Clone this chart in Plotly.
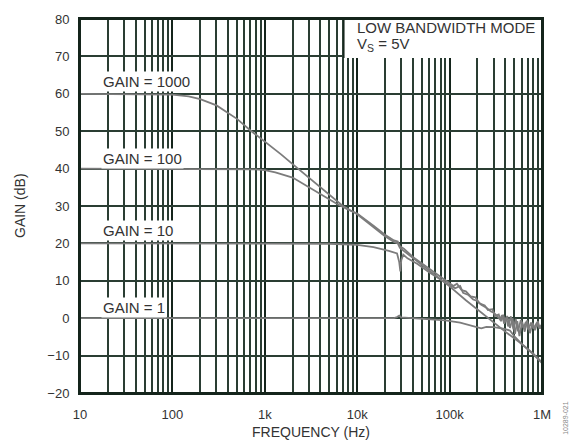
import plotly.graph_objects as go

# Closed-loop gain vs frequency, low bandwidth mode, Vs = 5 V
freq_g1000 = [10, 30, 60, 100, 150, 200, 300, 400, 500, 700, 1000, 1500, 2000, 3000,
              5000, 7000, 10000, 15000, 20000, 25000, 27500, 29000, 32000, 40000,
              60000, 100000, 150000, 200000, 280000, 400000, 580000, 800000, 1000000]
gain_g1000 = [60.0, 60.0, 60.0, 59.8, 59.3, 58.6, 56.9, 55.0, 53.3, 50.2, 47.3, 43.8,
              41.2, 37.5, 33.0, 30.0, 27.8, 24.3, 21.9, 20.4, 20.0, 18.8, 18.0, 16.0,
              12.7, 8.5, 4.8, 2.3, -0.6, -3.6, -6.6, -9.6, -12.0]

freq_g100 = [10, 100, 500, 800, 1000, 1300, 2000, 3000, 4000, 6000, 8000, 10000,
             15000, 20000, 25000, 27500, 29000, 32000, 40000, 60000, 80000,
             100000, 110000, 120000, 135000, 150000, 170000, 190000, 210000, 240000,
             260000, 290000, 310000, 340000, 360000, 380000, 400000, 420000, 450000,
             480000, 510000, 540000, 570000, 610000, 650000, 690000, 740000, 790000,
             840000, 900000, 950000, 1000000]
gain_g100 = [40.0, 40.0, 39.9, 39.8, 39.6, 39.0, 37.6, 35.0, 33.2, 30.6, 29.0, 28.0,
             24.7, 22.3, 20.8, 20.5, 19.2, 18.6, 16.4, 13.2, 11.0,
             9.4, 8.6, 9.2, 7.5, 7.2, 5.8, 5.6, 4.0, 3.4,
             2.2, 2.4, 0.6, 1.0, -0.8, 0.9, -1.0, 0.6, -2.6,
             0.0, -4.2, -0.8, -4.8, -1.0, -3.6, -0.6, -4.0, -1.2,
             -3.2, -0.8, -2.8, -1.5]

freq_g10 = [10, 1000, 5000, 10000, 15000, 22000, 27000, 28500, 29300, 30000, 31500,
            35000, 45000, 60000, 80000, 100000, 115000, 130000, 140000, 160000,
            180000, 200000, 220000, 250000, 280000, 300000, 330000, 350000, 370000,
            390000, 410000, 430000, 460000, 490000, 520000, 550000, 590000, 630000,
            670000, 710000, 760000, 810000, 870000, 930000, 1000000]
gain_g10 = [20.0, 20.0, 19.9, 19.6, 19.0, 18.0, 17.3, 15.0, 12.5, 15.5, 17.0,
            16.0, 14.5, 12.3, 10.2, 8.8, 8.0, 8.6, 6.8, 6.2,
            5.0, 4.6, 3.6, 2.8, 1.8, 1.5, 0.4, -0.3, 0.8,
            -1.5, 0.2, -2.2, 0.5, -3.0, -0.2, -3.5, -0.5, -2.6,
            -1.0, -3.0, -1.2, -2.8, -1.4, -2.5, -1.8]

freq_g1 = [10, 1000, 10000, 25000, 27000, 28500, 30000, 40000, 60000, 90000, 130000,
           170000, 220000, 250000, 300000, 380000, 450000, 500000, 600000, 800000, 1000000]
gain_g1 = [0.0, 0.0, 0.0, 0.0, 0.3, 0.7, 0.2, 0.0, -0.3, -0.6, -1.2,
           -2.0, -2.7, -2.3, -2.4, -2.8, -3.3, -4.8, -6.8, -9.4, -11.8]

x_tick_vals = [10, 100, 1000, 10000, 100000, 1000000]
x_tick_text = ["10", "100", "1k", "10k", "100k", "1M"]
y_tick_vals = [-20, -10, 0, 10, 20, 30, 40, 50, 60, 70, 80]

curve_labels = ["GAIN = 1000", "GAIN = 100", "GAIN = 10", "GAIN = 1"]
label_levels = [63.2, 42.8, 23.4, 2.9]

GRID = "#14241b"
GRID_MINOR = "#2a3d33"
CURVE = "#7c7c7c"
FONT = "Liberation Sans, Arial, sans-serif"

minor_vals = [m * d for d in (10, 100, 1000, 10000, 100000) for m in range(2, 10)]

fig = go.Figure()
for fx, gy in [(freq_g1000, gain_g1000), (freq_g100, gain_g100),
               (freq_g10, gain_g10), (freq_g1, gain_g1)]:
    fig.add_trace(go.Scatter(x=fx, y=gy, mode="lines",
                             line=dict(color=CURVE, width=1.8),
                             showlegend=False, hoverinfo="skip"))

fig.update_layout(
    width=576, height=444,
    margin=dict(l=80, r=34, t=17, b=51),
    paper_bgcolor="white", plot_bgcolor="white",
    font=dict(family=FONT, size=13, color="#333333"),
    xaxis=dict(type="log", range=[1, 6], tickvals=x_tick_vals, ticktext=x_tick_text,
               showgrid=True, gridcolor=GRID, gridwidth=2,
               minor=dict(tickvals=minor_vals, showgrid=True, gridcolor=GRID_MINOR,
                          gridwidth=1.5),
               showline=True, linecolor=GRID, linewidth=2, mirror=True,
               ticks="", zeroline=False, ticklabelstandoff=8,
               tickfont=dict(size=13, color="#333333")),
    yaxis=dict(range=[-20, 80], tickvals=y_tick_vals,
               showgrid=True, gridcolor=GRID_MINOR, gridwidth=2,
               showline=True, linecolor=GRID, linewidth=2, mirror=True,
               ticks="", zeroline=False, ticklabelstandoff=6,
               tickfont=dict(size=13, color="#333333")),
)

# white panel for the operating-condition note in the upper right
fig.add_shape(type="rect", xref="paper", yref="y", x0=0.571, x1=1.0, y0=69.6, y1=80,
              fillcolor="white", line=dict(width=0), layer="above")
fig.add_shape(type="line", xref="paper", yref="y", x0=0.571, x1=0.571, y0=69.6, y1=80,
              line=dict(color=GRID, width=1.5), layer="above")
fig.add_shape(type="rect", xref="paper", yref="paper", x0=0, x1=1, y0=0, y1=1,
              line=dict(color=GRID, width=2), layer="above")

fig.add_annotation(xref="paper", yref="paper", x=(355 - 80) / 462, y=(393 - 26) / 376,
                   text="LOW BANDWIDTH MODE", showarrow=False, xanchor="left",
                   yanchor="middle", font=dict(size=15, color="#333333"))
fig.add_annotation(xref="paper", yref="paper", x=(355 - 80) / 462, y=(393 - 43) / 376,
                   text="V<sub>S</sub> = 5V", showarrow=False, xanchor="left",
                   yanchor="middle", font=dict(size=15, color="#333333"))

for txt, lvl in zip(curve_labels, label_levels):
    fig.add_annotation(xref="paper", yref="y", x=(101 - 80) / 462, y=lvl, text=txt,
                       showarrow=False, xanchor="left", yanchor="middle",
                       bgcolor="white", borderpad=1,
                       font=dict(size=15, color="#333333"))

# axis titles
fig.add_annotation(xref="paper", yref="paper", x=0.5, y=-0.105, text="FREQUENCY (Hz)",
                   showarrow=False, xanchor="center", yanchor="middle",
                   font=dict(size=14, color="#333333"))
fig.add_annotation(xref="paper", yref="paper", x=(20 - 80) / 462, y=(393 - 205) / 376,
                   text="GAIN (dB)", textangle=-90, showarrow=False,
                   xanchor="center", yanchor="middle",
                   font=dict(size=14, color="#333333"))
fig.add_annotation(xref="paper", yref="paper", x=(566 - 80) / 462, y=(393 - 418) / 376,
                   text="10289-021", textangle=-90, showarrow=False,
                   xanchor="center", yanchor="middle",
                   font=dict(size=7, color="#888888"))

fig.write_html("out.html")
